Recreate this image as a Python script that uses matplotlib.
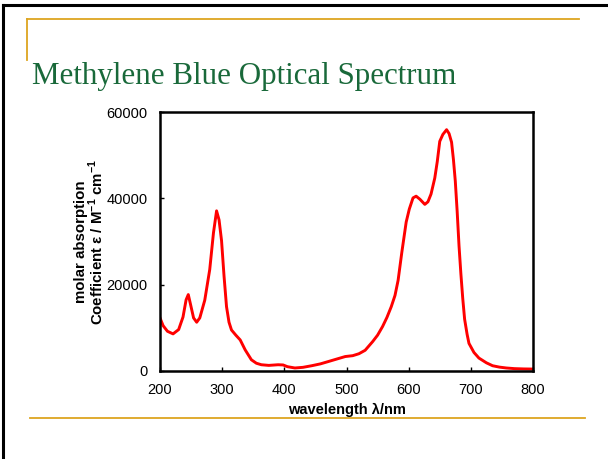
import matplotlib
matplotlib.use('Agg')
import matplotlib.pyplot as plt
from matplotlib.lines import Line2D

plt.rcParams['font.family'] = ['Liberation Sans', 'DejaVu Sans']
plt.rcParams['mathtext.fontset'] = 'custom'
plt.rcParams['mathtext.rm'] = 'Liberation Sans'
plt.rcParams['mathtext.bf'] = 'Liberation Sans:bold'

# absorption spectrum (wavelength nm, epsilon M^-1 cm^-1)
wavelength = [200, 205, 212, 221, 230, 237, 242, 245.5, 249, 254, 259, 264, 272,
              280, 286, 291, 295, 299, 303, 307, 311, 315, 322, 329, 337, 347,
              355, 363, 375, 390, 398, 405, 417, 430, 444, 458, 471, 485, 498,
              510, 520, 530, 542, 550, 558, 565, 572, 578, 583, 589, 596, 601,
              607, 612, 618, 626, 631, 636, 642, 646, 650, 655, 661, 665, 669,
              672, 675, 678, 681, 684, 687, 690, 694, 697, 705, 713, 725, 735,
              746, 757, 770, 785, 800]
epsilon = [12300, 10500, 9200, 8600, 9600, 12500, 16500, 17700, 15500, 12300,
           11300, 12300, 16400, 23500, 32000, 37100, 35000, 30200, 22000, 14900,
           11300, 9500, 8300, 7200, 4900, 2600, 1800, 1450, 1300, 1450, 1400,
           1000, 700, 850, 1220, 1650, 2200, 2800, 3350, 3550, 4000, 4800, 6800,
           8300, 10300, 12400, 14900, 17500, 21000, 27500, 34500, 37500, 40100,
           40500, 39800, 38600, 39200, 41000, 44700, 48500, 53200, 54800, 55900,
           55000, 53000, 49000, 44000, 37000, 29000, 22500, 16800, 12000, 8500,
           6400, 4300, 3000, 1900, 1220, 900, 700, 550, 480, 450]

x_ticks = [200, 300, 400, 500, 600, 700, 800]
y_ticks = [0, 20000, 40000, 60000]

title = 'Methylene Blue Optical Spectrum'
gold = '#DDA520'

fig = plt.figure(figsize=(6.08, 4.59), dpi=100)
W, H = 608, 459

# slide decoration
fig.add_artist(Line2D([3 / W, 3 / W], [0, 1 - 5 / H], color='black', lw=2.2))
fig.add_artist(Line2D([3 / W, 1], [1 - 5 / H, 1 - 5 / H], color='black', lw=2.2))
fig.add_artist(Line2D([27 / W, 579 / W], [1 - 19 / H, 1 - 19 / H], color=gold, lw=1.3))
fig.add_artist(Line2D([27 / W, 27 / W], [1 - 19 / H, 1 - 60 / H], color=gold, lw=1.3))
fig.add_artist(Line2D([30 / W, 585 / W], [1 - 418 / H, 1 - 418 / H], color=gold, lw=1.3))

fig.text(32 / W, 1 - 84 / H, title, family='Liberation Serif', fontsize=22.3,
         color='#19693A', ha='left', va='baseline')

ax = fig.add_axes([160 / W, 1 - 371 / H, 373 / W, 259 / H])
ax.plot(wavelength, epsilon, color='#FF0000', lw=2.1, solid_joinstyle='round')

ax.set_xlim(200, 800)
ax.set_ylim(0, 60000)
ax.set_xticks(x_ticks)
ax.set_yticks(y_ticks)
ax.tick_params(direction='in', length=3, width=1, labelsize=10.5, pad=9)
for s in ax.spines.values():
    s.set_linewidth(1.8)

ax.set_xlabel('wavelength λ/nm', fontsize=10.5, fontweight='bold', labelpad=4)
ax.set_ylabel('molar absorption\nCoefficient ε / M$^{\\mathbf{-1}}$ cm$^{\\mathbf{-1}}$',
              fontsize=10.8, fontweight='bold', linespacing=0.95, labelpad=0)

fig.savefig('out.png', dpi=100)
